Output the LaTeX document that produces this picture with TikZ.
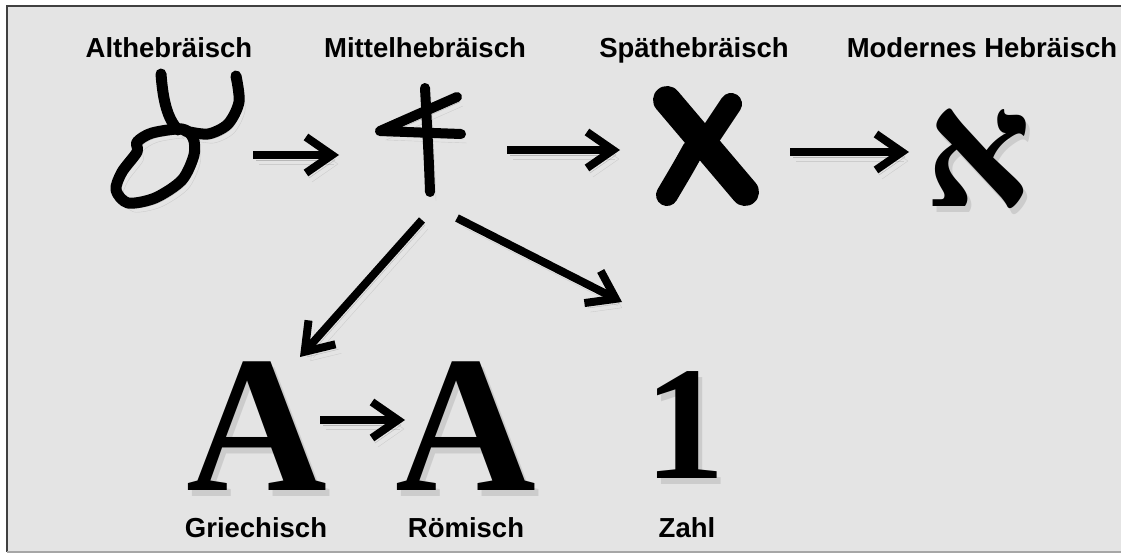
\documentclass[tikz,border=0pt]{standalone}
\usepackage{fontspec}
\setmainfont{Liberation Sans}
\newfontfamily\glyphfont{Liberation Serif}
\newfontfamily\hebfont[Script=Hebrew]{Liberation Serif}
\TeXXeTstate=1
\usetikzlibrary{arrows.meta, calc}
\definecolor{bgcol}{HTML}{E4E4E4}
\newcommand\glyphshade[1]{\makebox[0pt][l]{\hspace{4pt}\raisebox{-6pt}{\color{black!20}#1}}#1}

\begin{document}
\begin{tikzpicture}[x=1pt, y=-1pt,
  lbl/.style={font=\fontsize{27.5}{30}\selectfont\bfseries, anchor=base, inner sep=0pt},
  glyph/.style={font=\glyphfont\bfseries\fontsize{195}{200}\selectfont, anchor=base, inner sep=0pt},
  shadowed/.style={preaction={draw=black, draw opacity=.2, transform canvas={shift={(3,5)}}},
                   preaction={draw=black, draw opacity=.1, transform canvas={shift={(6,9)}}}},
  arr/.style={shadowed, line width=8pt, -{Straight Barb[length=26pt, width=36pt]}},
  stroke/.style={shadowed, line width=11pt, line cap=round, line join=round}]
\useasboundingbox (0,0) rectangle (1121,553);
\fill[bgcol] (7,6) rectangle (1121,552);
\draw[black!75, line width=2pt] (1121,6) -- (7,6) -- (7,552);
\draw[black!35, line width=1.5pt] (7,552) -- (1121,552);

% labels
\node[lbl] (l-alt) at (169,58) {Althebräisch};
\node[lbl] (l-mit) at (425,58) {Mittelhebräisch};
\node[lbl] (l-spaet) at (694,58) {Späthebräisch};
\node[lbl] (l-mod) at (982,58) {Modernes Hebräisch};
\node[lbl] (l-gr) at (256,537) {Griechisch};
\node[lbl] (l-ro) at (466,537) {Römisch};
\node[lbl] (l-zahl) at (687,537) {Zahl};

% drawn letters
\coordinate (alt) at (178,140);
\coordinate (mit) at (420,140);
\coordinate (spaet) at (706,147);
\draw[stroke] (161,74) .. controls (163,100) and (167,118) .. (178,130);
\draw[stroke] plot[smooth] coordinates {(236,76) (239,102) (228,124) (208,134) (185,131)};
\draw[stroke] plot[smooth cycle] coordinates {(182,129) (152,133) (137,142) (137,152) (122,172) (116,190) (128,203) (155,198) (182,180) (194,155) (193,138)};
\draw[stroke, line width=10pt] (425,88) .. controls (427,125) and (429,160) .. (430,192);
\draw[stroke, line width=10pt] (457,97) -- (380,131) -- (461,134);
\draw[stroke, line width=28pt] (667,100) -- (745,192);
\draw[stroke, line width=22pt] (731,104) -- (707,140);
\draw[stroke, line width=22pt] (693,150) .. controls (683,168) .. (667,195);

% font letters
\node[glyph] (gr) at (257,490) {\glyphshade{A}};
\node[glyph] (ro) at (466,490) {\glyphshade{A}};
\node[glyph, font=\glyphfont\bfseries\fontsize{162}{170}\selectfont] (zahl) at (685,478) {\glyphshade{1}};
\node[glyph, font=\hebfont\bfseries\fontsize{165}{175}\selectfont] (mod) at (978,207) {\glyphshade{\beginR א\endR}};

% arrows
\draw[arr] ([shift={(75,15)}]alt) -- ([shift={(-81,15)}]mit);
\draw[arr] ([shift={(87,10)}]mit) -- ([shift={(-86,3)}]spaet);
\draw[arr] ([shift={(84,5)}]spaet) -- ([shift={(-69,-55)}]mod.base);
\draw[arr] ([shift={(2,80)}]mit) -- ([shift={(43,-133)}]gr.base);
\draw[arr] ([shift={(37,78)}]mit) -- ([shift={(-63,-176)}]zahl.base);
\draw[arr] ([shift={(63,-70)}]gr.base) -- ([shift={(-61,-70)}]ro.base);
\end{tikzpicture}
\end{document}
